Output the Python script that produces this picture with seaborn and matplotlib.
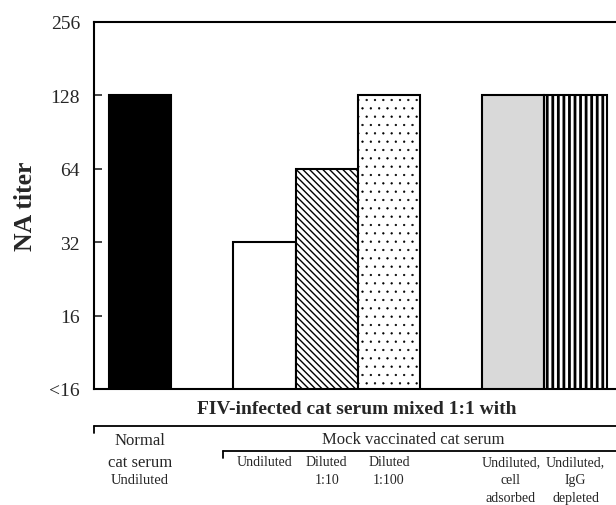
import matplotlib
matplotlib.use("Agg")
import matplotlib.pyplot as plt
import matplotlib.transforms as mtransforms
from matplotlib.lines import Line2D
import seaborn as sns
import pandas as pd

# ---- data ----
categories = ["Normal cat serum Undiluted", "Undiluted", "Diluted 1:10",
              "Diluted 1:100", "Undiluted, cell adsorbed", "Undiluted, IgG depleted"]
titers = [128, 32, 64, 128, 128, 128]
ytick_values = [8, 16, 32, 64, 128, 256]
ytick_labels = ["<16", "16", "32", "64", "128", "256"]
sub_labels = ["Undiluted", "Diluted\n1:10", "Diluted\n1:100",
              "Undiluted,\ncell\nadsorbed", "Undiluted,\nIgG\ndepleted"]
group_label = "FIV-infected cat serum mixed 1:1 with"
mock_label = "Mock vaccinated cat serum"
normal_label = "Normal\ncat serum"
normal_sub = "Undiluted"

# slot order (blank slots give the gaps)
order = [categories[0], "gap_a", categories[1], categories[2], categories[3],
         "gap_b", categories[4], categories[5]]

df = pd.DataFrame({"cat": categories, "titer": titers})

sns.set_style("white")
plt.rcParams["font.family"] = ["Liberation Serif", "DejaVu Serif"]
plt.rcParams["hatch.linewidth"] = 1.0

W, H = 616, 506
fig = plt.figure(figsize=(W / 100, H / 100), dpi=100)
ax = fig.add_axes([94 / W, 1 - 390 / H, 1 - 94 / W, (390 - 22.7) / H])

sns.barplot(data=df, x="cat", y="titer", order=order, width=1.0,
            color="white", edgecolor="black", linewidth=1.5,
            saturation=1, ax=ax, errorbar=None)

faces = ["black", "white", "white", "white", "#d9d9d9", "white"]
hatches = [None, None, "\\\\\\\\\\", "..", None, "|||"]
hlw = [1.0, 1.0, 1.0, 0.4, 1.0, 2.0]
bars = sorted(ax.patches, key=lambda p: p.get_x())
for p, fc, h, lw in zip(bars, faces, hatches, hlw):
    p.set_facecolor(fc)
    p.set_edgecolor("black")
    if h:
        p.set_hatch(h)
        if hasattr(p, "set_hatch_linewidth"):
            p.set_hatch_linewidth(lw)

ax.set_yscale("log", base=2)
ax.set_ylim(8, 256)
ax.set_yticks(ytick_values)
ax.set_yticklabels(ytick_labels, fontsize=14)
ax.yaxis.set_minor_locator(matplotlib.ticker.NullLocator())
ax.tick_params(axis="y", direction="in", length=6, width=1.2, left=True, pad=10)
ax.set_xlim(-0.74, 7.65)
ax.set_xticks([])
ax.set_xlabel("")
ax.set_ylabel("NA titer", fontsize=18.5, fontweight="bold")
ax.yaxis.set_label_coords(-0.11, 0.5)
for s in ["left", "top", "bottom"]:
    ax.spines[s].set_visible(True)
    ax.spines[s].set_linewidth(1.5)
    ax.spines[s].set_color("black")
ax.spines["right"].set_visible(False)

# ---- labels below the axes ----
tr = mtransforms.blended_transform_factory(ax.transData, fig.transFigure)
def fy(py):
    return 1 - py / H

ax.text(3.49, fy(410), group_label, transform=tr, ha="center", va="center",
        fontsize=14, fontweight="bold")
ax.text(order.index(categories[0]), fy(452), normal_label, transform=tr,
        ha="center", va="center", fontsize=12, linespacing=1.5)
ax.text(order.index(categories[0]), fy(481), normal_sub, transform=tr,
        ha="center", va="center", fontsize=10.5)
ax.text(4.39, fy(440), mock_label, transform=tr, ha="center", va="center",
        fontsize=12)
for cat, lab in zip(categories[1:], sub_labels):
    xpos = order.index(cat)
    if cat == categories[4]:
        xpos -= 0.04
    ax.text(xpos, fy(456), lab, transform=tr, ha="center", va="top",
            fontsize=10, linespacing=1.5)

# bracket lines
fig.add_artist(Line2D([94 / W, 1], [fy(427), fy(427)], color="black", lw=1.3))
fig.add_artist(Line2D([94 / W, 94 / W], [fy(427), fy(434)], color="black", lw=1.3))
fig.add_artist(Line2D([223 / W, 1], [fy(452), fy(452)], color="black", lw=1.3))
fig.add_artist(Line2D([223 / W, 223 / W], [fy(452), fy(459)], color="black", lw=1.3))

fig.savefig("out.png", dpi=100)
